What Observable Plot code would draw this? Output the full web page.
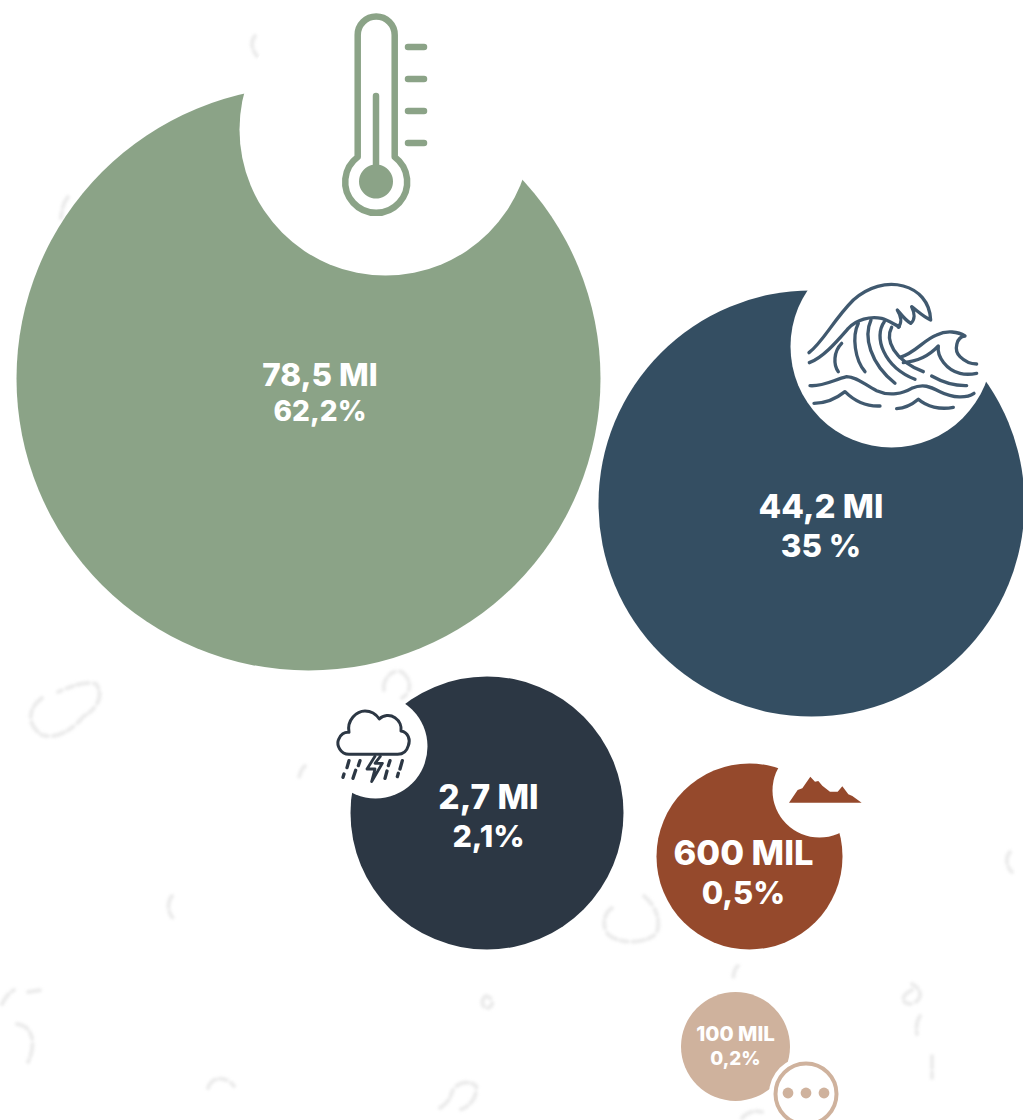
<!DOCTYPE html>
<html lang="pt">
<head>
<meta charset="utf-8">
<title>Água no planeta</title>
<script src="https://cdn.jsdelivr.net/npm/d3@7"></script>
<script src="https://cdn.jsdelivr.net/npm/@observablehq/plot@0.6"></script>
<style>
  html, body { margin: 0; padding: 0; background: #fff; overflow: hidden; }
  svg { display: block; }
</style>
</head>
<body>
<div id="chart"></div>
<script>
// Shares of the total, largest to smallest (millions of units).
const categories = ["Temperatura", "Água", "Tempestade", "Terra", "Outros"];
const amounts = [78.5, 44.2, 2.7, 0.6, 0.1];
const amountLabels = ["78,5 MI", "44,2 MI", "2,7 MI", "600 MIL", "100 MIL"];
const shareLabels = ["62,2%", "35 %", "2,1%", "0,5%", "0,2%"];

// Bubble sizes and places on the page.
const radiusStops = [54.5, 93, 136.5, 213, 292];
const bubbleX = [308, 811, 486.5, 749, 735];
const bubbleY = [378, 503, 812.5, 856, 1046];
const colors = ["#8ba387", "#344e62", "#2c3744", "#95492c", "#cfb29d"];

// White bites that hold the icons.
const biteX = [385, 891, 375, 819, 805.5];
const biteY = [129, 346, 746, 790, 1093.5];
const biteR = [146, 101, 52, 47, 37];

// Caption lines.
const labelX = [319.5, 820.5, 488, 743, 735];
const amountY = [375.5, 507, 798, 853.5, 1034];
const shareY = [411.5, 546, 837, 893.5, 1058];
const amountSize = [31.5, 33, 33.5, 34.5, 20.5];
const shareSize = [28, 31.5, 30.5, 31, 18.8];

const bubbles = categories.map((category, i) => ({
  category,
  amount: amounts[i],
  amountLabel: amountLabels[i],
  shareLabel: shareLabels[i],
  cx: bubbleX[i], cy: bubbleY[i], color: colors[i],
  bx: biteX[i], by: biteY[i], br: biteR[i],
  lx: labelX[i], ay: amountY[i], sy: shareY[i],
  as: amountSize[i], ss: shareSize[i]
}));

// Faint speckles of the page's paper texture.
const speckles = [
  "M42 698C28 708 26 725 42 735C58 740 74 728 84 716C98 708 104 695 96 684C84 680 68 688 58 692",
  "M384 690C382 680 392 668 402 672C412 680 412 692 402 698",
  "M68 197C62 204 62 212 61 218",
  "M255 36C250 42 252 50 257 56",
  "M1010 852C1005 858 1006 866 1012 872",
  "M612 908C602 914 602 930 610 936C622 944 644 944 656 934C662 922 656 906 644 896",
  "M172 896C166 904 168 916 176 920",
  "M305 766C300 770 300 776 298 780",
  "M17 1024C34 1026 36 1046 28 1062",
  "M2 1004C6 996 10 992 14 990M28 992L42 990",
  "M208 1088C212 1076 226 1076 234 1086",
  "M440 1108C446 1104 450 1100 452 1092C456 1082 470 1080 476 1086C478 1096 470 1108 458 1110",
  "M486 996C480 1000 482 1008 488 1008C494 1006 494 998 486 996",
  "M738 966C734 968 734 974 733 978",
  "M912 990C904 994 898 1002 910 1004C922 1002 924 990 912 984",
  "M920 1016C916 1022 916 1030 917 1034",
  "M932 1056C932 1064 932 1072 932 1078",
  "M742 1118C748 1112 754 1110 762 1112"
];

// Icon outlines, each in its own local units.
const thermometerOutline = "M357.7 157V35A18.5 18.5 0 0 1 394.7 35V157A31 31 0 1 1 357.7 157Z";
const thermometerStem = "M376 96V175";
const thermometerTicks = "M408 47H424M408 79H424M408 111H424M408 143H424";
const wavePaths = [
  "M57 248C100 215 130 150 190 90C235 50 290 35 340 48C385 60 420 95 422 150C400 140 385 125 365 110C375 130 375 150 362 160C345 150 335 135 322 120C335 140 335 160 325 172",
  "M58 278C100 262 140 215 175 175C200 148 240 138 275 145C295 150 315 165 328 170",
  "M155 220C130 245 130 285 145 305",
  "M205 160C185 200 195 270 225 305",
  "M243 150C220 200 240 280 315 340",
  "M283 155C250 200 280 290 375 328",
  "M305 172C285 210 310 270 400 305",
  "M330 262C375 250 400 210 440 195C470 180 505 185 525 198C500 200 490 240 510 260C525 275 545 282 560 282",
  "M340 278C385 275 420 255 445 228C440 260 470 300 510 310C530 315 545 313 560 310",
  "M425 318C455 335 490 348 530 347",
  "M60 347C100 350 130 330 170 320C200 320 225 345 260 362C300 380 340 370 365 355C400 340 420 350 450 365C490 385 530 385 552 370",
  "M72 400C110 400 140 385 165 365C190 390 225 410 270 408",
  "M320 416C345 415 365 405 385 388C410 410 450 420 490 412"
];
const cloudOutline = "M72 178C45 178 35 150 40 135C45 118 60 110 72 112C65 75 95 48 120 48C140 48 155 60 163 72C175 60 195 58 210 68C225 78 230 95 228 108C250 112 257 135 250 152C245 170 232 178 218 178Z";
const cloudRain = "M72 197L66 218M105 197L100 212M57 237L54 247M92 226L84 250M195 197L190 212M232 197L225 222M186 228L180 250M220 235L217 245";
const cloudBolt = "M150 184L126 222H150L140 260L172 205H150L166 184";
const ridge = "M72 143H290L262 123L250 118L232 94L218 110H195L172 92L160 78L150 80L136 65L112 100L98 105Z";

// Appends one SVG path to a group and returns it.
function addPath(g, d, attrs) {
  const p = g.append("path").attr("d", d);
  for (const [k, v] of Object.entries(attrs)) p.attr(k, v);
  return p;
}

// Draws the faint paper texture underneath the bubbles.
function textureMark() {
  const g = d3.create("svg:g")
    .attr("fill", "none").attr("stroke", "#d8d8d8").attr("stroke-width", 4)
    .attr("stroke-linecap", "round").attr("stroke-opacity", 0.5)
    .attr("stroke-dasharray", "12 4 7 5")
    .style("filter", "blur(1.4px)");
  speckles.forEach((d) => addPath(g, d, {}));
  return g.node();
}

// Draws the pictogram that sits in each bubble's white bite.
function iconsMark() {
  const root = d3.create("svg:g").attr("fill", "none").attr("stroke-linecap", "round").attr("stroke-linejoin", "round");

  const thermo = root.append("g").attr("stroke", colors[0]).attr("stroke-width", 6.5);
  addPath(thermo, thermometerOutline, {});
  addPath(thermo, thermometerStem, {});
  addPath(thermo, thermometerTicks, {});
  addPath(thermo, "M376 164.5a17 17 0 1 0 .01 0Z", {fill: colors[0], stroke: "none"});

  const wave = root.append("g").attr("transform", "translate(790 270) scale(0.3333)")
    .attr("stroke", "#40596f").attr("stroke-width", 10);
  wavePaths.forEach((d) => addPath(wave, d, {}));

  const storm = root.append("g").attr("transform", "translate(325 695) scale(0.3333)")
    .attr("stroke", colors[2]);
  addPath(storm, cloudOutline, {"stroke-width": 9});
  addPath(storm, cloudRain, {"stroke-width": 10});
  addPath(storm, cloudBolt, {"stroke-width": 8.5});

  const land = root.append("g").attr("transform", "translate(765 755) scale(0.3333)");
  addPath(land, ridge, {fill: colors[3]});

  return root.node();
}

const captionStyle = {
  fill: "#fff", fontFamily: "Inter, sans-serif", fontWeight: 800,
  lineAnchor: "middle", textAnchor: "middle"
};

const plot = Plot.plot({
  width: 1023,
  height: 1120,
  margin: 0,
  style: {background: "#fff"},
  x: {type: "identity", axis: null},
  y: {type: "identity", axis: null},
  r: {type: "linear", domain: [...amounts].reverse(), range: radiusStops},
  marks: [
    textureMark,
    Plot.dot(bubbles, {x: "cx", y: "cy", r: "amount", fill: "color"}),
    Plot.dot(bubbles, {x: "bx", y: "by", r: {value: "br", scale: null}, fill: "#fff"}),
    // Ring and three dots of the "other" pictogram.
    Plot.dot(bubbles.slice(-1), {x: "bx", y: "by", r: {value: () => 30.5, scale: null}, stroke: "color", strokeWidth: 4, fill: "none"}),
    Plot.dot([-18, 0, 18], {x: (d) => biteX[4] + d, y: () => biteY[4] - 1, r: {value: () => 5.4, scale: null}, fill: colors[4]}),
    iconsMark,
    Plot.text(bubbles, {x: "lx", y: "ay", text: "amountLabel", fontSize: "as", ...captionStyle}),
    Plot.text(bubbles, {x: "lx", y: "sy", text: "shareLabel", fontSize: "ss", ...captionStyle})
  ]
});
document.getElementById("chart").append(plot);
</script>
</body>
</html>
